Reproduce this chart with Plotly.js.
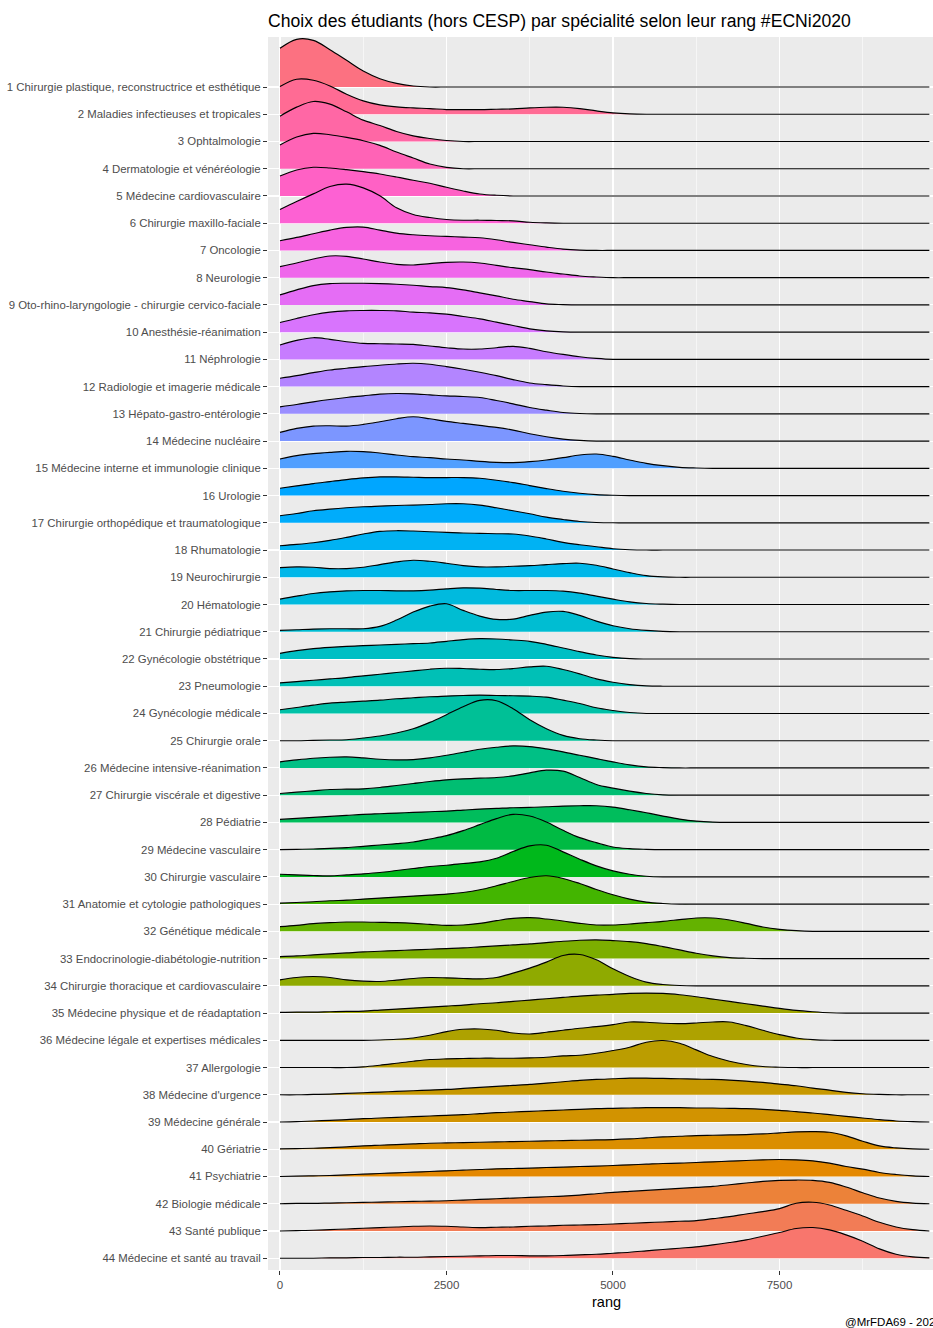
<!DOCTYPE html>
<html>
<head>
<meta charset="utf-8">
<script src="https://cdn.plot.ly/plotly-3.0.1.min.js"></script>
<style>
  html, body { margin: 0; padding: 0; overflow: hidden; background: #ffffff; }
  #chart { width: 950px; height: 1328px; }
</style>
</head>
<body>
<div id="chart"></div>
<script>
// ---- DATA ----
const rang = [0,250,500,750,1000,1250,1500,1750,2000,2250,2500,2750,3000,3250,3500,3750,4000,4250,4500,4750,5000,5250,5500,5750,6000,6250,6500,6750,7000,7250,7500,7750,8000,8250,8500,8750,9000,9250,9500,9750];

const specialites = [
  "1 Chirurgie plastique, reconstructrice et esthétique",
  "2 Maladies infectieuses et tropicales",
  "3 Ophtalmologie",
  "4 Dermatologie et vénéréologie",
  "5 Médecine cardiovasculaire",
  "6 Chirurgie maxillo-faciale",
  "7 Oncologie",
  "8 Neurologie",
  "9 Oto-rhino-laryngologie - chirurgie cervico-faciale",
  "10 Anesthésie-réanimation",
  "11 Néphrologie",
  "12 Radiologie et imagerie médicale",
  "13 Hépato-gastro-entérologie",
  "14 Médecine nucléaire",
  "15 Médecine interne et immunologie clinique",
  "16 Urologie",
  "17 Chirurgie orthopédique et traumatologique",
  "18 Rhumatologie",
  "19 Neurochirurgie",
  "20 Hématologie",
  "21 Chirurgie pédiatrique",
  "22 Gynécologie obstétrique",
  "23 Pneumologie",
  "24 Gynécologie médicale",
  "25 Chirurgie orale",
  "26 Médecine intensive-réanimation",
  "27 Chirurgie viscérale et digestive",
  "28 Pédiatrie",
  "29 Médecine vasculaire",
  "30 Chirurgie vasculaire",
  "31 Anatomie et cytologie pathologiques",
  "32 Génétique médicale",
  "33 Endocrinologie-diabétologie-nutrition",
  "34 Chirurgie thoracique et cardiovasculaire",
  "35 Médecine physique et de réadaptation",
  "36 Médecine légale et expertises médicales",
  "37 Allergologie",
  "38 Médecine d'urgence",
  "39 Médecine générale",
  "40 Gériatrie",
  "41 Psychiatrie",
  "42 Biologie médicale",
  "43 Santé publique",
  "44 Médecine et santé au travail"
];

// relative density (arbitrary units) sampled at each value of `rang`
const dens_01 = [116,143,140,112,80,48,25,11,3,0,0,0,0,0,0,0,0,0,0,0,0,0,0,0,0,0,0,0,0,0,0,0,0,0,0,0,0,0,0,0];
const dens_02 = [83,105,102,85,60,40,28,22,19,17,14,14,14,15,16,19,21,21,17,10,4,1,0,0,0,0,0,0,0,0,0,0,0,0,0,0,0,0,0,0];
const dens_03 = [76,103,120,112,89,64,48,30,17,9,3,0,0,0,0,0,0,0,0,0,0,0,0,0,0,0,0,0,0,0,0,0,0,0,0,0,0,0,0,0];
const dens_04 = [71,95,106,102,94,84,70,50,32,14,4,0,0,0,0,0,0,0,0,0,0,0,0,0,0,0,0,0,0,0,0,0,0,0,0,0,0,0,0,0];
const dens_05 = [60,78,86,84,79,73,66,57,47,38,26,15,6,2,0,0,0,0,0,0,0,0,0,0,0,0,0,0,0,0,0,0,0,0,0,0,0,0,0,0];
const dens_06 = [41,65,88,110,117,106,82,46,26,17,11,9,9,8,7,3,1,0,0,0,0,0,0,0,0,0,0,0,0,0,0,0,0,0,0,0,0,0,0,0];
const dens_07 = [29,39,50,61,69,70,61,52,47,44,42,40,38,32,24,17,10,4,1,0,0,0,0,0,0,0,0,0,0,0,0,0,0,0,0,0,0,0,0,0];
const dens_08 = [33,44,56,65,64,56,47,40,38,42,46,47,44,37,30,24,17,11,5,2,0,0,0,0,0,0,0,0,0,0,0,0,0,0,0,0,0,0,0,0];
const dens_09 = [30,45,58,64,65,65,64,62,59,55,52,45,36,27,17,10,3,1,0,0,0,0,0,0,0,0,0,0,0,0,0,0,0,0,0,0,0,0,0,0];
const dens_10 = [29,41,52,60,64,65,65,64,60,58,54,47,40,30,20,10,4,1,0,0,0,0,0,0,0,0,0,0,0,0,0,0,0,0,0,0,0,0,0,0];
const dens_11 = [43,57,65,60,53,48,47,46,45,40,35,31,31,35,39,33,23,15,8,3,0,0,0,0,0,0,0,0,0,0,0,0,0,0,0,0,0,0,0,0];
const dens_12 = [25,33,42,50,55,60,64,68,70,67,60,52,43,33,21,11,6,2,0,0,0,0,0,0,0,0,0,0,0,0,0,0,0,0,0,0,0,0,0,0];
const dens_13 = [21,28,36,43,49,54,59,61,60,57,54,52,49,40,30,19,11,4,1,0,0,0,0,0,0,0,0,0,0,0,0,0,0,0,0,0,0,0,0,0];
const dens_14 = [26,38,45,46,45,50,58,67,73,67,59,53,47,41,33,22,13,6,2,0,0,0,0,0,0,0,0,0,0,0,0,0,0,0,0,0,0,0,0,0];
const dens_15 = [28,38,44,48,51,50,46,40,35,32,28,25,21,18,17,20,25,32,40,43,36,25,15,8,3,1,0,0,0,0,0,0,0,0,0,0,0,0,0,0];
const dens_16 = [22,29,36,42,48,53,56,56,55,54,54,54,52,46,39,30,21,13,7,3,1,0,0,0,0,0,0,0,0,0,0,0,0,0,0,0,0,0,0,0];
const dens_17 = [21,28,36,41,45,48,50,52,53,55,57,57,53,45,36,27,17,10,4,1,0,0,0,0,0,0,0,0,0,0,0,0,0,0,0,0,0,0,0,0];
const dens_18 = [13,17,22,29,38,48,56,58,57,55,53,51,50,49,48,42,33,23,16,10,4,1,0,0,0,0,0,0,0,0,0,0,0,0,0,0,0,0,0,0];
const dens_19 = [29,31,30,26,26,30,38,46,51,48,42,35,31,31,33,35,38,41,42,36,25,14,5,1,0,0,0,0,0,0,0,0,0,0,0,0,0,0,0,0];
const dens_20 = [16,25,33,38,41,42,42,41,41,43,47,50,49,45,42,42,42,40,34,25,16,8,3,1,0,0,0,0,0,0,0,0,0,0,0,0,0,0,0,0];
const dens_21 = [4,6,8,9,9,9,16,35,59,77,84,64,47,37,38,49,59,61,49,32,18,9,4,1,0,0,0,0,0,0,0,0,0,0,0,0,0,0,0,0];
const dens_22 = [17,25,31,35,38,40,42,44,46,48,53,58,61,60,57,53,44,33,22,12,5,1,0,0,0,0,0,0,0,0,0,0,0,0,0,0,0,0,0,0];
const dens_23 = [10,14,18,22,26,31,36,41,46,51,54,53,51,50,53,58,60,50,37,22,12,5,1,0,0,0,0,0,0,0,0,0,0,0,0,0,0,0,0,0];
const dens_24 = [11,18,25,31,34,37,40,44,47,50,52,54,55,54,53,52,49,40,30,17,9,3,0,0,0,0,0,0,0,0,0,0,0,0,0,0,0,0,0,0];
const dens_25 = [0,0,1,2,3,8,14,23,36,55,78,102,121,120,96,63,36,16,6,2,0,0,0,0,0,0,0,0,0,0,0,0,0,0,0,0,0,0,0,0];
const dens_26 = [18,24,29,32,33,30,26,24,25,30,38,47,56,62,66,64,57,48,38,28,18,9,3,1,0,0,0,0,0,0,0,0,0,0,0,0,0,0,0,0];
const dens_27 = [5,9,13,17,18,19,23,29,35,41,46,49,51,53,58,67,75,72,53,32,21,12,5,1,0,0,0,0,0,0,0,0,0,0,0,0,0,0,0,0];
const dens_28 = [9,12,15,18,21,24,26,28,30,32,34,37,40,42,44,45,47,49,50,50,46,38,29,19,10,4,1,0,0,0,0,0,0,0,0,0,0,0,0,0];
const dens_29 = [0,1,2,4,6,10,14,18,23,32,42,57,75,93,106,101,83,58,36,21,8,3,1,0,0,0,0,0,0,0,0,0,0,0,0,0,0,0,0,0];
const dens_30 = [8,6,4,3,6,9,13,19,25,31,35,40,45,56,76,93,95,75,53,33,18,8,2,0,0,0,0,0,0,0,0,0,0,0,0,0,0,0,0,0];
const dens_31 = [3,5,7,10,12,15,18,21,24,27,30,35,43,55,68,80,85,77,62,44,28,15,6,2,0,0,0,0,0,0,0,0,0,0,0,0,0,0,0,0];
const dens_32 = [14,18,23,26,28,28,27,26,24,21,18,19,24,32,39,41,37,31,24,19,19,22,26,30,35,40,40,34,24,13,6,2,0,0,0,0,0,0,0,0];
const dens_33 = [6,8,11,14,17,20,22,24,26,28,30,32,35,38,41,44,48,52,55,56,54,51,45,36,26,16,8,3,1,0,0,0,0,0,0,0,0,0,0,0];
const dens_34 = [18,25,28,25,18,14,13,17,22,25,24,22,21,25,38,53,71,91,94,78,51,28,11,4,1,0,0,0,0,0,0,0,0,0,0,0,0,0,0,0];
const dens_35 = [2,3,3,4,5,6,9,12,15,18,21,24,28,31,35,39,43,47,51,54,56,59,60,59,55,49,42,35,28,21,14,8,4,1,0,0,0,0,0,0];
const dens_36 = [0,0,0,0,0,0,1,3,7,15,26,33,34,30,22,19,24,30,36,41,47,55,54,51,50,52,55,55,44,30,17,7,2,0,0,0,0,0,0,0];
const dens_37 = [0,0,0,0,0,2,7,13,19,24,26,27,28,28,28,29,31,35,37,43,51,61,76,81,73,53,33,19,9,3,1,0,0,0,0,0,0,0,0,0];
const dens_38 = [0,0,1,2,4,6,8,10,12,14,16,19,22,25,28,31,35,39,43,46,48,50,50,49,48,47,46,44,41,37,32,27,20,14,7,3,1,0,0,0];
const dens_39 = [0,1,3,5,7,10,12,14,16,18,20,22,25,28,30,32,34,36,38,40,41,42,43,43,43,42,42,41,40,38,35,31,27,22,17,12,7,3,1,0];
const dens_40 = [1,2,3,5,7,10,12,14,16,18,19,20,21,22,23,24,25,26,27,28,29,31,34,37,39,41,42,43,44,46,49,52,53,51,40,24,10,4,1,0];
const dens_41 = [0,1,2,3,5,7,9,11,13,15,17,19,21,23,24,25,27,28,30,31,33,35,37,39,40,42,44,46,48,50,51,50,47,40,30,22,12,6,2,0];
const dens_42 = [0,1,1,2,3,4,5,6,7,8,9,11,13,15,17,19,21,23,26,30,34,37,40,43,46,49,52,57,62,67,70,71,70,64,50,33,17,7,2,0];
const dens_43 = [0,1,2,4,6,8,10,12,14,15,14,12,10,11,12,14,15,17,18,19,21,23,25,27,29,31,37,43,51,58,67,83,86,78,62,45,26,12,4,0];
const dens_44 = [0,0,0,1,1,2,2,3,3,4,5,6,7,8,8,7,7,8,10,12,15,18,22,26,30,34,40,47,55,66,77,89,92,85,70,51,28,12,4,1];

const densites = [dens_01,dens_02,dens_03,dens_04,dens_05,dens_06,dens_07,dens_08,dens_09,dens_10,
  dens_11,dens_12,dens_13,dens_14,dens_15,dens_16,dens_17,dens_18,dens_19,dens_20,
  dens_21,dens_22,dens_23,dens_24,dens_25,dens_26,dens_27,dens_28,dens_29,dens_30,
  dens_31,dens_32,dens_33,dens_34,dens_35,dens_36,dens_37,dens_38,dens_39,dens_40,
  dens_41,dens_42,dens_43,dens_44];

const xTicks = [0, 2500, 5000, 7500];
const xMinorTicks = [1250, 3750, 6250, 8750];

// ---- STYLE ----
const DENS_PER_ROW = 81.7;   // density units equal to one row spacing
const FONT = "Liberation Sans, Arial, sans-serif";

// ggplot2 default hue palette (HCL, c = 100, l = 65)
function hcl2hex(h, c, l) {
  const hr = h * Math.PI / 180;
  const U = c * Math.cos(hr), V = c * Math.sin(hr);
  const Xn = 95.047, Yn = 100, Zn = 108.883;
  const Y = Yn * (l > 8 ? Math.pow((l + 16) / 116, 3) : l / 903.3);
  const t = Xn + 15 * Yn + 3 * Zn;
  const un = 4 * Xn / t, vn = 9 * Yn / t;
  const u = U / (13 * l) + un, v = V / (13 * l) + vn;
  const X = 9 * Y * u / (4 * v);
  const Z = -X / 3 - 5 * Y + 3 * Y / v;
  const x = X / 100, y = Y / 100, z = Z / 100;
  const r = 3.240479 * x - 1.537150 * y - 0.498535 * z;
  const g = -0.969256 * x + 1.875992 * y + 0.041556 * z;
  const b = 0.055648 * x - 0.204043 * y + 1.057311 * z;
  const gam = q => q <= 0.0031308 ? 12.92 * q : 1.055 * Math.pow(q, 1 / 2.4) - 0.055;
  const to = q => { const k = Math.round(255 * Math.min(1, Math.max(0, gam(q)))); return k.toString(16).padStart(2, "0"); };
  return "#" + to(r) + to(g) + to(b);
}
const n = specialites.length;
function rowColor(i) {           // i = 0 for the top row
  const level = n - 1 - i;        // bottom row is the first factor level
  return hcl2hex(15 + level * 360 / n, 100, 65);
}

const traces = [];
const tickVals = [];
for (let i = 0; i < n; i++) {
  const base = n - 1 - i;
  tickVals.push(base);
  const baseY = rang.map(() => base);
  const topY = densites[i].map(d => base + d / DENS_PER_ROW);
  traces.push({
    x: rang, y: baseY, type: "scatter", mode: "lines",
    line: { color: "rgba(0,0,0,0)", width: 0.5, shape: "spline", smoothing: 1 },
    hoverinfo: "skip", showlegend: false
  });
  traces.push({
    x: rang, y: topY, type: "scatter", mode: "lines",
    fill: "tonexty", fillcolor: rowColor(i),
    line: { color: "#000000", width: 1.15, shape: "spline", smoothing: 1 },
    hoverinfo: "skip", showlegend: false
  });
}

const W = 950, H = 1328;
const L = 268, R = 6, T = 37, B = 58;
const plotH = H - T - B;

const layout = {
  width: W, height: H,
  margin: { l: L, r: R, t: T, b: B, pad: 0 },
  paper_bgcolor: "#ffffff",
  plot_bgcolor: "#EBEBEB",
  showlegend: false,
  font: { family: FONT, color: "#000000" },
  title: {
    text: "Choix des étudiants (hors CESP) par spécialité selon leur rang #ECNi2020",
    font: { family: FONT, size: 17.6, color: "#000000" },
    xref: "paper", x: 0, xanchor: "left",
    yref: "container", y: 1 - 21 / H, yanchor: "middle"
  },
  xaxis: {
    range: [-180, 9970],
    tickvals: xTicks, ticktext: xTicks.map(String),
    showgrid: true, gridcolor: "#FFFFFF", gridwidth: 1.1,
    minor: { tickvals: xMinorTicks, showgrid: true, gridcolor: "#FFFFFF", gridwidth: 0.55, ticks: "" },
    zeroline: false, showline: false,
    ticks: "outside", ticklen: 4, tickwidth: 1, tickcolor: "#333333",
    tickfont: { family: FONT, size: 11.5, color: "#4D4D4D" },
    automargin: false, fixedrange: true
  },
  yaxis: {
    range: [-(1270 - 1258.2) / 27.23, (n - 1) + (87 - 37) / 27.23],
    tickvals: tickVals, ticktext: specialites,
    showgrid: true, gridcolor: "#FFFFFF", gridwidth: 1.1,
    zeroline: false, showline: false,
    ticks: "outside", ticklen: 4, tickwidth: 1, tickcolor: "#333333",
    tickfont: { family: FONT, size: 11.4, color: "#4D4D4D" },
    automargin: false, fixedrange: true
  },
  annotations: [
    {
      text: "rang", showarrow: false,
      xref: "paper", x: 0.5, xanchor: "center",
      yref: "paper", y: -(1302 - (T + plotH)) / plotH, yanchor: "middle",
      font: { family: FONT, size: 14.5, color: "#000000" }
    },
    {
      text: "@MrFDA69 - 2020", showarrow: false,
      xref: "paper", x: 1, xanchor: "right",
      yref: "paper", y: -(1322 - (T + plotH)) / plotH, yanchor: "middle",
      font: { family: FONT, size: 11.5, color: "#000000" }
    }
  ],
  hovermode: false
};

Plotly.newPlot("chart", traces, layout, { staticPlot: true, displayModeBar: false });
</script>
</body>
</html>
